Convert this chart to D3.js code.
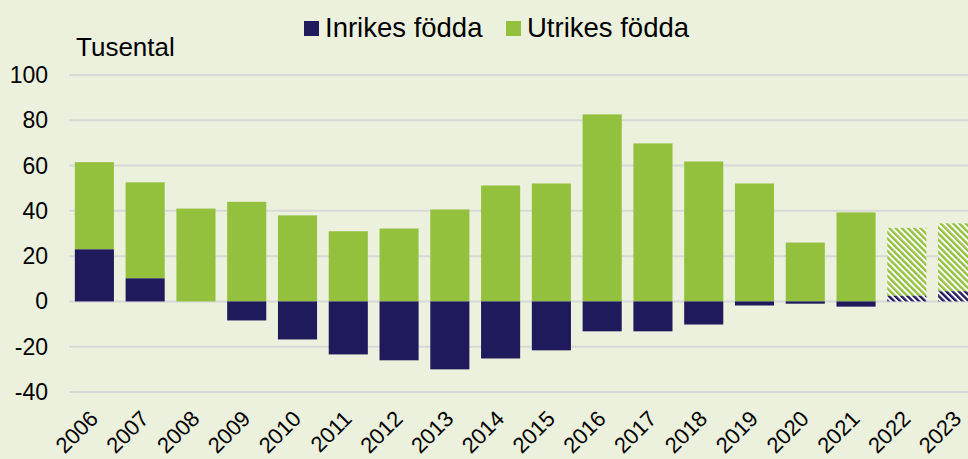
<!DOCTYPE html>
<html>
<head>
<meta charset="utf-8">
<script src="https://cdn.jsdelivr.net/npm/d3@7"></script>
<style>
  body { margin: 0; background: #EBF1DC; }
  svg { display: block; font-family: "Liberation Sans", Arial, sans-serif; }
</style>
</head>
<body>
<svg id="chart" width="968" height="459"></svg>
<script>
// data, thousands
var years = ["2006","2007","2008","2009","2010","2011","2012","2013","2014","2015","2016","2017","2018","2019","2020","2021","2022","2023"];
var inrikes = [23, 10.2, 0, -8.4, -16.8, -23.4, -26, -30, -25.2, -21.6, -13.2, -13.2, -10.2, -1.8, -1, -2.3, 2.5, 4.5];
var utrikes = [38.5, 42.4, 41, 44, 38, 31, 32.2, 40.6, 51.2, 52.1, 82.6, 69.8, 61.8, 52.1, 26, 39.3, 30, 30];
var forecast = ["2022", "2023"];
var yTicks = [100, 80, 60, 40, 20, 0, -20, -40];

var navy = "#1F1A5C", green = "#93C13E", bg = "#EBF1DC";

var svg = d3.select("#chart");
svg.append("rect").attr("width", 968).attr("height", 459).attr("fill", bg);

var defs = svg.append("defs");
function hatch(id, col) {
	var p = defs.append("pattern")
		.attr("id", id)
		.attr("patternUnits", "userSpaceOnUse")
		.attr("width", 4.4).attr("height", 4.4)
		.attr("patternTransform", "rotate(-45)");
	p.append("rect").attr("width", 4.4).attr("height", 4.4).attr("fill", "#fff");
	p.append("rect").attr("width", 2.4).attr("height", 4.4).attr("fill", col);
}
hatch("hatch-green", green);
hatch("hatch-navy", navy);

var x = d3.scaleBand().domain(years).range([69, 983]).paddingInner(0.23).paddingOuter(0.115);
var y = d3.scaleLinear().domain([-40, 100]).range([392, 75]);

// grid
svg.append("g").selectAll("line").data(yTicks).join("line")
	.attr("x1", 69).attr("x2", 968)
	.attr("y1", function(d) { return y(d); })
	.attr("y2", function(d) { return y(d); })
	.attr("stroke", "#D6D9D6").attr("stroke-width", 2);

// y labels
svg.append("g").selectAll("text").data(yTicks).join("text")
	.attr("x", 48).attr("y", function(d) { return y(d) + 8; })
	.attr("text-anchor", "end")
	.attr("font-size", 23)
	.attr("fill", "#000")
	.text(function(d) { return d; });

svg.append("text").attr("x", 76).attr("y", 56)
	.attr("font-size", 26).text("Tusental");

var rows = years.map(function(yr, i) {
	var inr = inrikes[i], utr = utrikes[i];
	var base = inr > 0 ? inr : 0;
	return {year: yr, inr: inr, utrLo: base, utrHi: base + utr, fc: forecast.indexOf(yr) >= 0};
});

var bars = svg.append("g");
bars.selectAll("rect.utr").data(rows).join("rect")
	.attr("class", "utr")
	.attr("x", function(d) { return x(d.year); })
	.attr("width", x.bandwidth())
	.attr("y", function(d) { return y(d.utrHi); })
	.attr("height", function(d) { return y(d.utrLo) - y(d.utrHi); })
	.attr("fill", function(d) { return d.fc ? "url(#hatch-green)" : green; });

bars.selectAll("rect.inr").data(rows).join("rect")
	.attr("class", "inr")
	.attr("x", function(d) { return x(d.year); })
	.attr("width", x.bandwidth())
	.attr("y", function(d) { return y(Math.max(0, d.inr)); })
	.attr("height", function(d) { return Math.abs(y(d.inr) - y(0)); })
	.attr("fill", function(d) { return d.fc ? "url(#hatch-navy)" : navy; });

// x labels
svg.append("g").selectAll("text").data(years).join("text")
	.attr("text-anchor", "end")
	.attr("font-size", 22)
	.attr("transform", function(d) {
		var cx = x(d) + x.bandwidth() / 2 + 5;
		return "translate(" + cx + ",420) rotate(-45)";
	})
	.text(function(d) { return d; });

// legend
var legend = [
	{label: "Inrikes födda", col: navy, x: 304},
	{label: "Utrikes födda", col: green, x: 506}
];
var lg = svg.append("g");
lg.selectAll("rect").data(legend).join("rect")
	.attr("x", function(d) { return d.x; }).attr("y", 21)
	.attr("width", 15).attr("height", 15)
	.attr("fill", function(d) { return d.col; });
lg.selectAll("text").data(legend).join("text")
	.attr("x", function(d) { return d.x + 21; }).attr("y", 37)
	.attr("font-size", 27.5)
	.text(function(d) { return d.label; });
</script>
</body>
</html>
